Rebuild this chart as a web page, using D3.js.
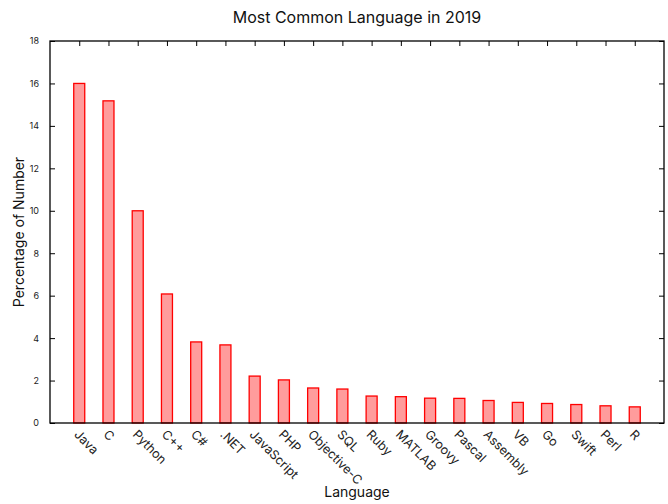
<!DOCTYPE html>
<html>
<head>
<meta charset="utf-8">
<script src="https://cdn.jsdelivr.net/npm/d3@7"></script>
<style>
  body { margin: 0; background: #fff; }
  text { font-family: Inter, "Liberation Sans", Arial, sans-serif; }
</style>
</head>
<body>
<div id="chart"></div>
<script>
const languages = ["Java", "C", "Python", "C++", "C#", ".NET", "JavaScript", "PHP", "Objective-C", "SQL",
  "Ruby", "MATLAB", "Groovy", "Pascal", "Assembly", "VB", "Go", "Swift", "Perl", "R"];
const percents = [16.0, 15.18, 10.0, 6.08, 3.82, 3.68, 2.21, 2.03, 1.65, 1.6,
  1.27, 1.24, 1.17, 1.16, 1.06, 0.97, 0.92, 0.87, 0.81, 0.76];
const yTicks = [0, 2, 4, 6, 8, 10, 12, 14, 16, 18];

const W = 668, H = 504;
const margin = {t: 41, r: 4, b: 81, l: 50};
const w = W - margin.l - margin.r;
const h = H - margin.t - margin.b;

const svg = d3.select("#chart").append("svg")
  .attr("width", W)
  .attr("height", H);

const g = svg.append("g")
  .attr("transform", `translate(${margin.l},${margin.t})`);

// gnuplot style: one empty slot on each side
const x = d3.scalePoint()
  .domain(["_l", ...languages, "_r"])
  .range([0, w]);

const y = d3.scaleLinear()
  .domain([0, 18])
  .range([h, 0]);

const barW = 11;

// bars
g.selectAll(".bar")
  .data(languages)
  .enter()
  .append("rect")
  .attr("class", "bar")
  .attr("x", d => x(d) - barW / 2)
  .attr("y", (d, i) => y(percents[i]))
  .attr("width", barW)
  .attr("height", (d, i) => h - y(percents[i]))
  .attr("fill", "#ff9c9c")
  .attr("stroke", "#ff0000")
  .attr("stroke-width", 1.3);

// left axis, ticks inside
const yLeft = g.append("g")
  .call(d3.axisLeft(y).tickValues(yTicks).tickSize(-5).tickPadding(11));
// right axis mirror ticks
const yRight = g.append("g")
  .attr("transform", `translate(${w},0)`)
  .call(d3.axisRight(y).tickValues(yTicks).tickSize(-5).tickFormat(""));
// top axis mirror ticks
const xTop = g.append("g")
  .call(d3.axisTop(x).tickValues(languages).tickSize(-5).tickFormat(""));
// bottom axis
const xBottom = g.append("g")
  .attr("transform", `translate(0,${h})`)
  .call(d3.axisBottom(x).tickValues(languages).tickSize(0).tickPadding(6));

[yLeft, yRight, xTop, xBottom].forEach(a => {
  a.select(".domain").remove();
  a.selectAll("line").attr("stroke", "#000").attr("stroke-width", 1);
});

yLeft.selectAll("text")
  .attr("font-size", 9)
  .attr("fill", "#222");

xBottom.selectAll("text")
  .attr("font-size", 12.5)
  .attr("fill", "#222")
  .attr("text-anchor", "start")
  .attr("dy", "0.35em")
  .attr("transform", "translate(1,5) rotate(45)");

// frame
g.append("rect")
  .attr("width", w)
  .attr("height", h)
  .attr("fill", "none")
  .attr("stroke", "#000")
  .attr("stroke-width", 1.3);

// title
svg.append("text")
  .attr("x", margin.l + w / 2)
  .attr("y", 23)
  .attr("text-anchor", "middle")
  .attr("font-size", 16)
  .attr("fill", "#111")
  .text("Most Common Language in 2019");

svg.append("text")
  .attr("x", margin.l + w / 2)
  .attr("y", 497)
  .attr("text-anchor", "middle")
  .attr("font-size", 14)
  .attr("fill", "#111")
  .text("Language");

svg.append("text")
  .attr("transform", `translate(24,${margin.t + h / 2}) rotate(-90)`)
  .attr("text-anchor", "middle")
  .attr("font-size", 14)
  .attr("fill", "#111")
  .text("Percentage of Number");
</script>
</body>
</html>
